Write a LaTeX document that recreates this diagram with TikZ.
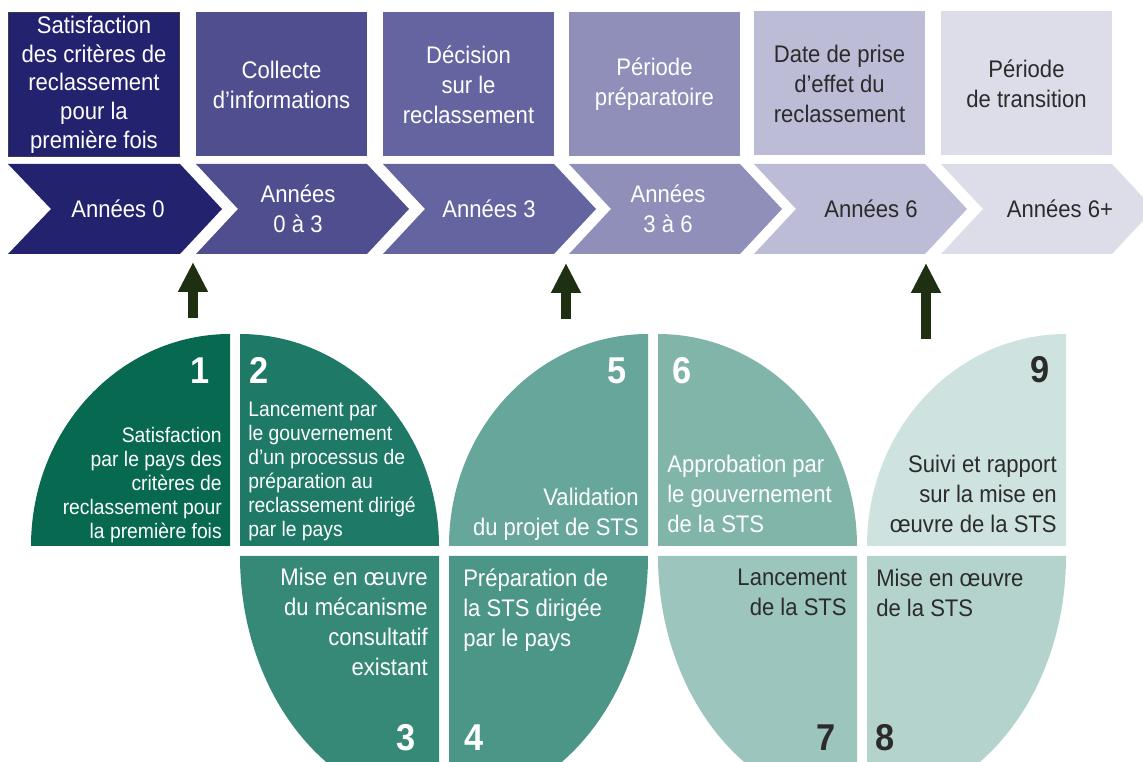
\documentclass[tikz,border=0pt]{standalone}
\usepackage{fontspec}
\setmainfont{Liberation Sans}[FakeStretch=0.92]
\usetikzlibrary{arrows.meta}
\definecolor{nA}{HTML}{23226F}
\definecolor{nB}{HTML}{4F4F8F}
\definecolor{nC}{HTML}{6464A0}
\definecolor{nD}{HTML}{8F8FBA}
\definecolor{nE}{HTML}{BCBCD7}
\definecolor{nF}{HTML}{DDDDEA}
\definecolor{nLine}{HTML}{3A3A50}
\definecolor{gA}{HTML}{076A50}
\definecolor{gB}{HTML}{1E7A66}
\definecolor{gC}{HTML}{368877}
\definecolor{gD}{HTML}{4B9686}
\definecolor{gE}{HTML}{67A69A}
\definecolor{gF}{HTML}{81B5A9}
\definecolor{gG}{HTML}{9CC5BD}
\definecolor{gH}{HTML}{B4D3CD}
\definecolor{gI}{HTML}{CEE3DF}
\definecolor{arr}{HTML}{1E2F12}
\definecolor{dk}{HTML}{2B2B2B}
\begin{document}
\begin{tikzpicture}[x=0.75pt,y=-0.75pt,
  hbox/.style={minimum width=128.6pt,minimum height=108pt,inner sep=0pt,align=center,font=\fontsize{18}{22.5}\selectfont},
  chevtext/.style={inner sep=0pt,align=center,font=\fontsize{18}{22.5}\selectfont},
  qsmall/.style={inner sep=0pt,font=\fontsize{15.75}{18}\selectfont},
  qbig/.style={inner sep=0pt,font=\fontsize{18}{22.5}\selectfont},
  num/.style={inner sep=0pt,font=\fontsize{28}{28}\selectfont\bfseries},
  uparrow/.style={draw=arr,line width=7.5pt,-{Triangle[width=21pt,length=22.5pt]}},
  topq/.style={x radius=199,y radius=212},
  botq/.style={x radius=199,y radius=250}]
\useasboundingbox (0,0) rectangle (1143,762);
\clip (0,0) rectangle (1143,762);

% header boxes
\node[hbox,fill=nA,draw=nLine,line width=0.75pt,text=white,font=\fontsize{18}{21.5}\selectfont] (h1) at (94,84.5) {Satisfaction\\des critères de\\reclassement\\pour la\\première fois};
\node[hbox,fill=nB,text=white] (h2) at (281.5,84.5) {Collecte\\d’informations};
\node[hbox,fill=nC,text=white] (h3) at (468.5,84.5) {Décision\\sur le\\reclassement};
\node[hbox,fill=nD,text=white] (h4) at (654.5,84.5) {Période\\préparatoire};
\node[hbox,fill=nE,text=dk] (h5) at (839.5,83.5) {Date de prise\\d’effet du\\reclassement};
\node[hbox,fill=nF,text=dk] (h6) at (1026.5,83.5) {Période\\de transition};

% chevrons
\fill[nA] (8,164) -- (180,164) -- (222,209) -- (180,254) -- (8,254) -- (51,209) -- cycle;
\fill[nB] (196,164) -- (367,164) -- (409,209) -- (367,254) -- (196,254) -- (238,209) -- cycle;
\fill[nC] (383,164) -- (554,164) -- (596,209) -- (554,254) -- (383,254) -- (425,209) -- cycle;
\fill[nD] (569,164) -- (740,164) -- (782,209) -- (740,254) -- (569,254) -- (611,209) -- cycle;
\fill[nE] (754,164) -- (925,164) -- (967,209) -- (925,254) -- (754,254) -- (796,209) -- cycle;
\fill[nF] (941,164) -- (1112,164) -- (1154,209) -- (1112,254) -- (941,254) -- (983,209) -- cycle;
\node[chevtext,text=white] (c1) at (118,209) {Années 0};
\node[chevtext,text=white] (c2) at (298,209) {Années\\0 à 3};
\node[chevtext,text=white] (c3) at (489,209) {Années 3};
\node[chevtext,text=white] (c4) at (668,209) {Années\\3 à 6};
\node[chevtext,text=dk] (c5) at (871,209) {Années 6};
\node[chevtext,text=dk] (c6) at (1060,209) {Années 6+};

% arrows
\coordinate (a1s) at (193,318); \coordinate (a1e) at (193,262);
\coordinate (a2s) at (566,319); \coordinate (a2e) at (566,263);
\coordinate (a3s) at (926,339); \coordinate (a3e) at (926,263);
\draw[uparrow] (a1s) -- (a1e);
\draw[uparrow] (a2s) -- (a2e);
\draw[uparrow] (a3s) -- (a3e);

% quarter shapes
\fill[gA] (230,546) -- (31,546) arc[start angle=180,end angle=270,topq] -- cycle;
\fill[gB] (240,546) -- (240,334) arc[start angle=270,end angle=360,topq] -- cycle;
\fill[gC] (439,556) -- (240,556) arc[start angle=180,end angle=90,botq] -- cycle;
\fill[gD] (449,556) -- (648,556) arc[start angle=0,end angle=90,botq] -- cycle;
\fill[gE] (648,546) -- (449,546) arc[start angle=180,end angle=270,topq] -- cycle;
\fill[gF] (658,546) -- (658,334) arc[start angle=270,end angle=360,topq] -- cycle;
\fill[gG] (857,556) -- (658,556) arc[start angle=180,end angle=90,botq] -- cycle;
\fill[gH] (867,556) -- (1066,556) arc[start angle=0,end angle=90,botq] -- cycle;
\fill[gI] (1066,546) -- (867,546) arc[start angle=180,end angle=270,topq] -- cycle;

% quarter texts
\node[qsmall,anchor=north east,align=right,text=white] (t1) at (222,427) {Satisfaction\\par le pays des\\critères de\\reclassement pour\\la première fois};
\node[qsmall,anchor=north west,align=left,text=white] (t2) at (248,402) {Lancement par\\le gouvernement\\d’un processus de\\préparation au\\reclassement dirigé\\par le pays};
\node[qbig,anchor=north east,align=right,text=white] (t3) at (428,568) {Mise en œuvre\\du mécanisme\\consultatif\\existant};
\node[qbig,anchor=north west,align=left,text=white] (t4) at (463,569) {Préparation de\\la STS dirigée\\par le pays};
\node[qbig,anchor=north east,align=right,text=white] (t5) at (639,488) {Validation\\du projet de STS};
\node[qbig,anchor=north west,align=left,text=white] (t6) at (667,455) {Approbation par\\le gouvernement\\de la STS};
\node[qbig,anchor=north east,align=right,text=dk] (t7) at (847,569) {Lancement\\de la STS};
\node[qbig,anchor=north west,align=left,text=dk] (t8) at (876,569) {Mise en œuvre\\de la STS};
\node[qbig,anchor=north east,align=right,text=dk] (t9) at (1057,455) {Suivi et rapport\\sur la mise en\\œuvre de la STS};

% numbers
\node[num,anchor=base east,text=white] (n1) at (210,384) {1};
\node[num,anchor=base west,text=white] (n2) at (249,384) {2};
\node[num,anchor=base east,text=white] (n3) at (416,750) {3};
\node[num,anchor=base west,text=white] (n4) at (464,750) {4};
\node[num,anchor=base east,text=white] (n5) at (627,384) {5};
\node[num,anchor=base west,text=white] (n6) at (672,384) {6};
\node[num,anchor=base east,text=dk] (n7) at (836,750) {7};
\node[num,anchor=base west,text=dk] (n8) at (875,750) {8};
\node[num,anchor=base east,text=dk] (n9) at (1050,383) {9};
\end{tikzpicture}
\end{document}
